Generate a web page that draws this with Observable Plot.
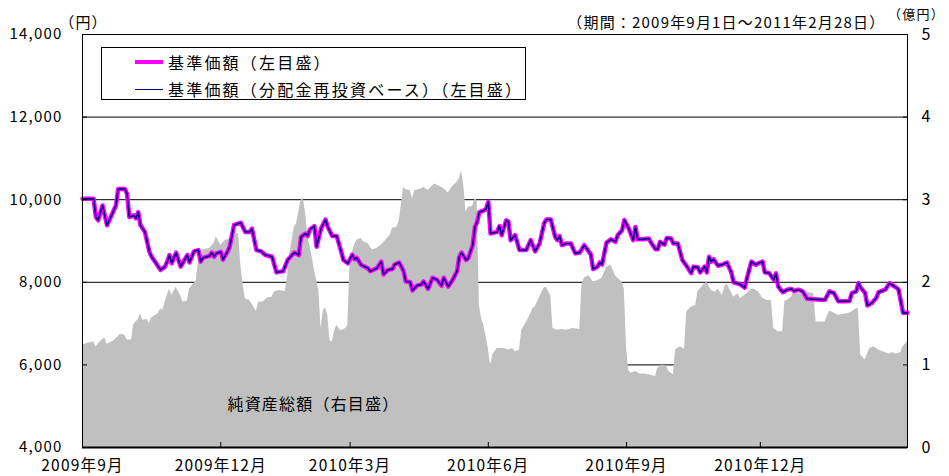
<!DOCTYPE html>
<html>
<head>
<meta charset="utf-8">
<script src="https://cdn.jsdelivr.net/npm/d3@7"></script>
<script src="https://cdn.jsdelivr.net/npm/@observablehq/plot@0.6"></script>
<style>
  html, body { margin: 0; padding: 0; background: #fff; }
  #wrap { position: relative; width: 949px; height: 476px; font-family: "Noto Sans CJK JP", sans-serif; }
  #legend { position: absolute; left: 101px; top: 47px; width: 425px; height: 53px; border: 1px solid #000; background: #fff; box-sizing: border-box; }
  .row { position: absolute; left: 0; height: 20px; display: flex; align-items: center; font-size: 16px; letter-spacing: 2.2px; color: #000; white-space: nowrap; }
  .sw { width: 28px; margin-left: 33px; margin-right: 5px; }
</style>
</head>
<body>
<div id="wrap"></div>
<script>
// ---- data (trading-day index from 2009-09-01 to 2011-02-28) ----
const tickDays = [0, 62, 120, 182, 244, 304];
const tickLabels = ["2009年9月", "2009年12月", "2010年3月", "2010年6月", "2010年9月", "2010年12月"];
const leftTicks = [4000, 6000, 8000, 10000, 12000, 14000];
const gridValues = [6000, 8000, 10000, 12000];

// 基準価額 (円)
const priceDays = [0,5,6,7,9,11,15,16,19,20,21,23,24,25,26,28,30,31,33,35,37,38,39,40,42,44,47,48,50,52,53,54,57,58,59,60,62,63,65,66,68,71,73,75,76,78,80,82,85,87,90,92,94,95,97,98,100,101,102,104,105,107,109,110,112,114,116,117,119,121,122,123,125,128,129,132,134,135,137,139,140,142,144,145,147,148,150,152,153,155,157,159,161,162,164,166,168,169,170,172,173,175,176,177,178,180,181,182,183,186,187,188,190,191,192,194,196,199,201,203,205,207,208,210,212,213,214,215,217,219,221,223,225,227,228,229,231,232,233,235,237,239,240,242,243,245,247,248,249,251,254,255,257,258,259,261,262,264,265,267,269,271,273,274,276,277,279,280,281,282,283,285,287,289,291,292,295,297,298,300,302,303,305,306,308,310,311,312,314,316,318,319,321,323,325,328,331,333,334,335,337,339,342,344,345,347,348,349,351,352,354,356,357,360,362,363,365,366,368,370];
const priceValues = [10020,10020,9580,9500,9860,9380,9860,10260,10260,10140,9580,9620,9550,9700,9380,9220,8740,8620,8460,8300,8380,8500,8660,8460,8720,8380,8660,8480,8750,8780,8500,8590,8640,8720,8620,8700,8740,8550,8740,8860,9390,9440,9220,9220,9300,8780,8750,8660,8620,8240,8270,8540,8660,8720,8660,9100,9180,9120,9280,9360,8860,9300,9520,9340,9120,9120,8750,8540,8460,8670,8560,8590,8420,8340,8270,8340,8500,8190,8300,8320,8430,8480,8270,8020,8000,7800,7920,7950,8020,7840,8110,8060,7920,8110,7900,8060,8270,8620,8720,8540,8580,8900,9340,9460,9700,9740,9780,9950,9180,9220,9360,9140,9500,9470,9020,9140,8780,8780,9020,8750,8940,9420,9520,9520,9100,9020,9120,8900,8940,8940,8700,8720,8900,8750,8670,8320,8380,8480,8430,8960,9040,8980,9140,9260,9510,9300,9020,9340,9040,9040,9060,8960,8800,8800,8980,8910,9070,9060,8940,8940,8540,8390,8220,8380,8360,8240,8380,8240,8620,8500,8560,8400,8430,8480,8240,8000,7950,7870,8100,8500,8420,8460,8500,8240,8220,8060,8220,7900,7760,7820,7840,7790,7820,7780,7600,7590,7580,7580,7680,7780,7740,7540,7540,7550,7740,7780,7980,7870,7740,7440,7500,7620,7760,7820,7980,7940,7870,7820,7260,7260];
// 基準価額（分配金再投資ベース）: coincides with 基準価額 over the whole period (no distribution paid)
const reinvestValues = priceValues.slice();

// 純資産総額 (億円)
const navDays = [0,2,5,6,8,10,11,14,17,19,20,22,23,25,26,27,29,30,31,34,35,36,38,39,40,42,44,45,47,48,51,52,54,57,59,60,62,64,66,68,70,71,72,73,75,78,79,81,83,85,86,88,91,92,93,95,96,97,98,99,100,101,103,104,106,107,108,109,110,111,112,113,114,116,118,119,120,122,123,125,126,128,130,132,134,136,138,139,141,142,144,145,147,148,149,152,153,155,157,158,161,163,164,166,168,169,170,171,172,173,175,176,177,178,179,180,182,183,184,186,189,191,193,194,196,197,200,202,203,205,207,208,210,211,213,215,217,220,223,224,225,227,228,229,231,233,235,237,239,242,243,244,245,246,248,250,252,254,257,258,260,262,263,265,266,268,270,271,273,275,276,277,279,280,282,284,285,287,288,289,291,292,294,295,298,300,301,303,305,307,309,310,312,314,315,316,318,319,321,324,325,328,329,332,333,335,336,339,341,343,345,347,348,349,351,353,355,357,359,362,363,365,367,368,370];
const navValues = [1.24,1.26,1.28,1.22,1.28,1.33,1.25,1.29,1.37,1.36,1.30,1.30,1.49,1.55,1.62,1.54,1.55,1.50,1.57,1.62,1.68,1.66,1.84,1.92,1.84,1.94,1.84,1.76,1.77,1.92,2.02,2.25,2.39,2.41,2.47,2.55,2.45,2.51,2.52,2.57,2.59,2.21,1.98,1.80,1.78,1.65,1.76,1.76,1.81,1.82,1.88,1.90,1.89,2.08,2.35,2.67,2.71,2.85,2.99,3.02,2.85,2.57,2.31,2.15,1.90,1.44,1.66,1.69,1.60,1.29,1.28,1.40,1.48,1.41,1.44,1.48,2.25,2.45,2.51,2.53,2.49,2.47,2.39,2.41,2.45,2.51,2.57,2.65,2.67,2.73,3.15,3.12,3.11,3.01,3.11,3.13,3.15,3.11,3.17,3.19,3.15,3.11,3.08,3.16,3.21,3.25,3.35,3.17,2.85,2.91,2.92,3.01,2.99,1.72,1.56,1.48,1.20,1.00,1.12,1.20,1.20,1.18,1.20,1.16,1.18,1.42,1.56,1.68,1.70,1.82,1.93,1.94,1.84,1.44,1.42,1.43,1.42,1.44,1.43,1.96,2.05,2.08,2.05,2.00,2.02,2.05,2.18,2.21,2.08,2.00,1.92,1.20,0.93,0.90,0.92,0.89,0.89,0.88,0.86,0.96,1.00,0.98,0.92,0.88,1.18,1.22,1.19,1.64,1.70,1.72,1.89,1.92,1.98,2.00,1.90,1.88,1.92,1.84,1.94,1.98,1.88,1.82,1.86,1.80,1.86,1.92,1.92,1.89,1.81,1.78,1.78,1.44,1.40,1.40,1.77,1.78,1.82,1.88,1.86,1.86,1.88,1.86,1.52,1.52,1.52,1.65,1.64,1.60,1.61,1.62,1.64,1.68,1.68,1.12,1.06,1.20,1.22,1.18,1.16,1.13,1.15,1.13,1.15,1.22,1.28];

// ---- build tables ----
const price = priceDays.map((d, i) => ({day: d, value: priceValues[i]}));
const reinvest = priceDays.map((d, i) => ({day: d, value: reinvestValues[i]}));
const nav = navDays.map((d, i) => ({day: d, value: navValues[i]}));
// right axis (億円, 0–5) shares the left scale (4,000–14,000 円)
const toLeft = v => 4000 + v * 2000;
const fromLeft = v => (v - 4000) / 2000;

const chart = Plot.plot({
  width: 949,
  height: 476,
  marginLeft: 82,
  marginRight: 42,
  marginTop: 34,
  marginBottom: 29,
  style: {fontFamily: '"Noto Sans CJK JP", sans-serif', fontSize: "16px", color: "#000", background: "#fff", letterSpacing: "1.2px"},
  x: {type: "linear", domain: [0, 370]},
  y: {domain: [4000, 14000]},
  marks: [
    Plot.ruleY(gridValues, {stroke: "#000", strokeWidth: 1}),
    Plot.areaY(nav, {x: "day", y1: 4000, y2: d => toLeft(d.value), fill: "#c0c0c0", curve: "linear"}),
    Plot.line(price, {x: "day", y: "value", stroke: "#ff00ff", strokeWidth: 4.5, strokeLinejoin: "round"}),
    Plot.line(reinvest, {x: "day", y: "value", stroke: "#000080", strokeWidth: 1.6, strokeLinejoin: "round"}),
    Plot.frame({stroke: "#000", strokeWidth: 1}),
    Plot.ruleY([4000], {stroke: "#000", strokeWidth: 2}),
    Plot.axisY({anchor: "left", ticks: leftTicks, tickFormat: d3.format(","), tickSize: -5, tickPadding: 25, label: null, fontSize: 15}),
    Plot.axisY({anchor: "right", ticks: leftTicks, tickFormat: d => fromLeft(d), tickSize: -5, tickPadding: 19, label: null, fontSize: 16, textAnchor: "start"}),
    Plot.axisX({ticks: tickDays, tickFormat: d => tickLabels[tickDays.indexOf(d)], tickSize: -5, tickPadding: 17, label: null, fontSize: 15.5}),
    Plot.text(["純資産総額（右目盛）"], {x: 65, y: toLeft(0.52), text: d => d, textAnchor: "start", fontSize: 16}),
    Plot.text(["（円）"], {frameAnchor: "top-left", dx: 1, dy: -17, text: d => d, textAnchor: "middle", fontSize: 15}),
    Plot.text(["（億円）"], {frameAnchor: "top-right", dx: 9, dy: -25, text: d => d, textAnchor: "middle", fontSize: 13}),
    Plot.text(["（期間：2009年9月1日～2011年2月28日）"], {frameAnchor: "top-right", dx: -22, dy: -17, text: d => d, textAnchor: "end", fontSize: 15})
  ]
});

const wrap = document.getElementById("wrap");
wrap.appendChild(chart);

// legend
const legend = document.createElement("div");
legend.id = "legend";
const items = [
  {label: "基準価額（左目盛）", color: "#ff00ff", width: 4},
  {label: "基準価額（分配金再投資ベース）（左目盛）", color: "#000080", width: 1.5}
];
items.forEach((it, i) => {
  const row = document.createElement("div");
  row.className = "row";
  row.style.top = (4 + i * 27) + "px";
  const sw = document.createElement("div");
  sw.className = "sw";
  sw.style.borderTop = it.width + "px solid " + it.color;
  const t = document.createElement("span");
  t.textContent = it.label;
  row.appendChild(sw);
  row.appendChild(t);
  legend.appendChild(row);
});
wrap.appendChild(legend);
</script>
</body>
</html>
